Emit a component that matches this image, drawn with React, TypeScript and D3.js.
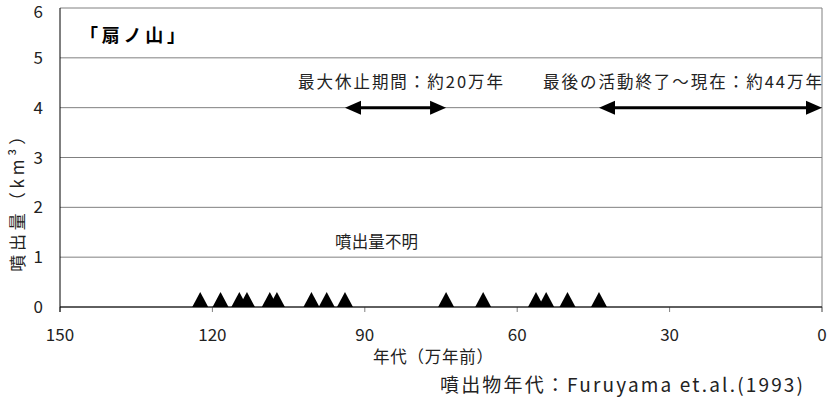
import React from "react";
import * as d3 from "d3";

const eruptionAges: number[] = [122.4, 118.4, 114.7, 113.2, 108.7, 107.3, 100.5, 97.5, 93.9, 74, 66.7, 56.3, 54.3, 50.1, 43.9];
const xTicks: number[] = [150, 120, 90, 60, 30, 0];
const yTicks: number[] = [0, 1, 2, 3, 4, 5, 6];
const arrowFrom: number[] = [93.9, 43.9];
const arrowTo: number[] = [74, 0];
const arrowLabels: string[] = ["最大休止期間：約20万年", "最後の活動終了〜現在：約44万年"];
const title = "「扇ノ山」";
const unknownLabel = "噴出量不明";
const yLabel = "噴出量（km³）";
const xLabel = "年代（万年前）";
const sourceLabel = "噴出物年代：Furuyama et.al.(1993)";

const W = 830;
const H = 404;
const FONT = "'Noto Sans CJK JP', sans-serif";

export default function App() {
  const x = d3.scaleLinear().domain([150, 0]).range([60, 822]);
  const y = d3.scaleLinear().domain([0, 6]).range([307, 8]);
  const triW = 16;
  const triH = 15;
  const headL = 16;
  const headH = 14;
  const triPath = (a: number) => {
    const p = d3.path();
    p.moveTo(x(a) - triW / 2, y(0));
    p.lineTo(x(a) + triW / 2, y(0));
    p.lineTo(x(a), y(0) - triH);
    p.closePath();
    return p.toString();
  };
  const headPath = (tipX: number, dir: number, yy: number) => {
    const p = d3.path();
    p.moveTo(tipX, yy);
    p.lineTo(tipX - dir * headL, yy - headH / 2);
    p.lineTo(tipX - dir * headL, yy + headH / 2);
    p.closePath();
    return p.toString();
  };
  const ay = y(4);
  return (
    <svg width={W} height={H} style={{ position: "absolute", left: 0, top: 0, background: "#fff" }} fontFamily={FONT}>
      <rect x={0} y={0} width={W} height={H} fill="#fff" />
      {yTicks.map((t) => (
        <line key={"g" + t} x1={x(150)} x2={x(0)} y1={y(t)} y2={y(t)} stroke="#808080" strokeWidth={1} />
      ))}
      <line x1={x(0)} x2={x(0)} y1={y(6)} y2={y(0) + 5} stroke="#808080" strokeWidth={1} />
      {xTicks.map((t) => (
        <line key={"xt" + t} x1={x(t)} x2={x(t)} y1={y(0)} y2={y(0) + 5} stroke="#808080" strokeWidth={1} />
      ))}
      <line x1={x(150)} x2={x(0)} y1={y(0)} y2={y(0)} stroke="#000" strokeWidth={1} />
      <line x1={x(150)} x2={x(150)} y1={y(6)} y2={y(0) + 5} stroke="#000" strokeWidth={1} />
      {yTicks.map((t) => (
        <text key={"yl" + t} x={x(150) - 17} y={y(t)} dy={t === 6 ? "0.6em" : "0.36em"} textAnchor="end" fontSize={17} fill="#222">
          {t}
        </text>
      ))}
      {xTicks.map((t) => (
        <text key={"xl" + t} x={x(t)} y={y(0) + 28} dy="0.36em" textAnchor="middle" fontSize={17} fill="#222">
          {t}
        </text>
      ))}
      {eruptionAges.map((a, i) => (
        <path key={"tri" + i} d={triPath(a)} fill="#000" />
      ))}
      {arrowFrom.map((from, i) => {
        const x1 = x(from);
        const x2 = x(arrowTo[i]);
        return (
          <g key={"ar" + i}>
            <line x1={x1 + headL - 1} x2={x2 - headL + 1} y1={ay} y2={ay} stroke="#000" strokeWidth={3} />
            <path d={headPath(x1, -1, ay)} fill="#000" />
            <path d={headPath(x2, 1, ay)} fill="#000" />
          </g>
        );
      })}
      <text x={298} y={ay - 20} fontSize={16.5} fill="#222" textLength={205} lengthAdjust="spacing">
        {arrowLabels[0]}
      </text>
      <text x={543} y={ay - 20} fontSize={16.5} fill="#222" textLength={279} lengthAdjust="spacing">
        {arrowLabels[1]}
      </text>
      <text x={335} y={y(1.3)} dy="0.36em" fontSize={16.5} fill="#222" textLength={83} lengthAdjust="spacing">
        {unknownLabel}
      </text>
      <text x={80} y={y(5.45)} dy="0.36em" fontSize={18} fontWeight="bold" fill="#000" textLength={105} lengthAdjust="spacing">
        {title}
      </text>
      <text transform={`translate(${18},${y(2.15)}) rotate(-90)`} x={-72} dy="0.36em" fontSize={17} fill="#222" textLength={144} lengthAdjust="spacing">
        {yLabel}
      </text>
      <text x={373} y={357} dy="0.36em" fontSize={16.5} fill="#222" textLength={120} lengthAdjust="spacing">
        {xLabel}
      </text>
      <text x={440} y={385} dy="0.36em" fontSize={19} fill="#222" textLength={363} lengthAdjust="spacing">
        {sourceLabel}
      </text>
    </svg>
  );
}
